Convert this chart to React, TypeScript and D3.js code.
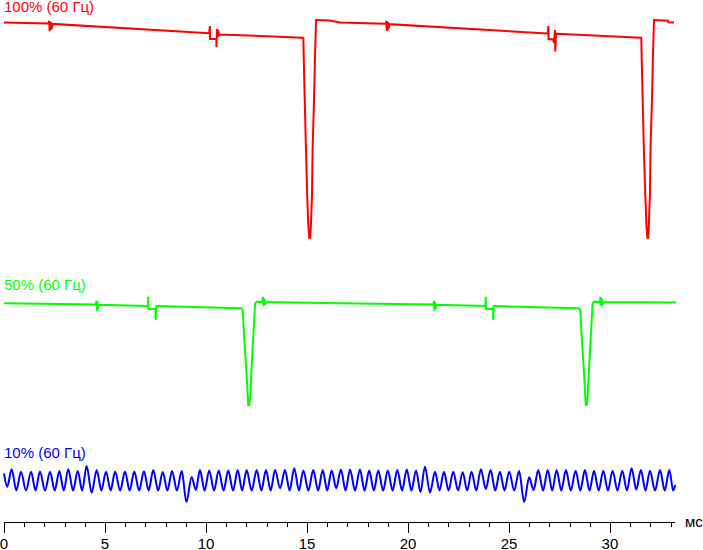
import React from "react";
import * as d3 from "d3";

const W = 703;
const H = 550;

// ms axis
const majorTicks = [0, 5, 10, 15, 20, 25, 30];
const minorTicks = d3.range(0, 34, 1);
const axisUnit = "мс";

const labels = ["100% (60 Гц)", "50% (60 Гц)", "10% (60 Гц)"];
const colors = ["#ff0000", "#00ff00", "#0000ff"];

// [time ms, brightness-like value]
const red: [number, number][] = [
  [0, 98.8], [2.2, 98.4], [2.24, 99.6], [2.26, 94.9], [2.28, 99.3], [2.31, 95.4], [2.33, 99.0], [2.36, 96.0], [2.4, 98.2],
  [10.16, 93.9], [10.19, 97.2], [10.2, 91.3], [10.51, 91.3], [10.52, 87.6], [10.54, 95.9], [10.58, 92.2], [10.61, 95.4], [10.64, 93.1], [10.69, 93.4],
  [14.79, 91.9], [14.82, 91.7], [14.85, 78.6], [14.9, 59.3], [14.95, 40.4], [15.01, 19.7], [15.06, 6.9], [15.11, 0.1], [15.16, 0.1],
  [15.2, 6.9], [15.25, 20.6], [15.28, 41.3], [15.35, 63.8], [15.4, 83.9], [15.45, 100],
  [16.14, 99.8], [16.63, 98.9],
  [18.9, 98.3], [18.93, 99.6], [18.95, 95.0], [18.97, 99.3], [19.0, 95.4], [19.02, 99.0], [19.05, 96.2], [19.08, 98.1],
  [26.91, 93.8], [26.95, 97.2], [26.96, 91.2], [27.18, 91.3], [27.23, 89.4], [27.28, 95.4], [27.29, 85.5], [27.33, 93.6], [27.38, 93.7],
  [31.53, 91.9], [31.55, 91.7], [31.58, 78.6], [31.63, 59.3], [31.68, 40.4], [31.75, 19.7], [31.8, 6.9], [31.85, 0.1], [31.9, 0.1],
  [31.93, 6.9], [31.98, 20.6], [32.01, 41.3], [32.08, 63.8], [32.13, 83.9], [32.18, 100],
  [32.87, 99.7], [32.9, 98.9], [33.17, 98.8],
];

const green: [number, number][] = [
  [0, 98.4], [4.55, 97.3], [4.58, 101], [4.6, 91.3], [4.63, 100.2], [4.65, 92.9], [4.69, 97.1],
  [7.13, 95.8], [7.14, 104.8], [7.15, 92.9], [7.5, 92.9], [7.51, 82.3], [7.54, 95.8],
  [11.73, 93.6], [11.82, 92.0], [11.9, 62.9], [11.98, 38.7], [12.04, 19.4], [12.09, 0], [12.14, 0],
  [12.18, 6.8], [12.26, 37.1], [12.34, 66.1], [12.43, 98.4], [12.51, 100],
  [12.8, 99.7], [12.82, 104.8], [12.86, 95.8], [12.89, 103], [12.92, 97.2], [12.97, 99.7],
  [16.63, 98.5], [21.26, 97.3], [21.29, 101], [21.31, 91.3], [21.34, 100.2], [21.36, 92.9], [21.4, 97.1],
  [23.84, 95.8], [23.85, 104.8], [23.86, 92.9], [24.21, 92.9], [24.22, 82.3], [24.25, 95.8],
  [28.44, 93.6], [28.53, 92.0], [28.61, 62.9], [28.69, 38.7], [28.75, 19.4], [28.8, 0], [28.85, 0],
  [28.89, 6.8], [28.97, 37.1], [29.05, 66.1], [29.14, 98.4], [29.22, 100],
  [29.51, 99.7], [29.53, 104.8], [29.57, 95.8], [29.6, 103], [29.63, 97.2], [29.68, 99.7],
  [33.27, 99.2],
];

// extrema of the 10% ripple: [time ms, relative value]
const blue: [number, number][] = [
  [0.0, 0.7], [0.16, -0.62], [0.38, 1.12], [0.61, -1.0], [0.84, 0.88], [1.09, -1.0], [1.34, 0.88], [1.56, -1.0],
  [1.78, 0.9], [2.03, -1.0], [2.28, 0.88], [2.51, -1.0], [2.74, 0.95], [2.96, -1.0], [3.18, 1.12], [3.42, -1.0],
  [3.65, 0.95], [3.87, -1.0], [4.09, 1.45], [4.34, -1.22], [4.59, 1.05], [4.82, -1.0], [5.05, 0.88], [5.28, -1.0],
  [5.5, 0.9], [5.75, -1.0], [5.99, 0.9], [6.22, -1.0], [6.45, 0.9], [6.69, -1.0], [6.93, 0.92], [7.16, -1.0],
  [7.39, 1.05], [7.63, -1.0], [7.86, 0.85], [8.09, -1.0], [8.32, 0.95], [8.56, -1.0], [8.8, 0.95], [9.03, -2.15],
  [9.29, 0.35], [9.5, -0.95], [9.7, 1.05], [9.93, -1.0], [10.16, 1.0], [10.4, -1.0], [10.63, 1.0], [10.87, -1.0],
  [11.1, 1.0], [11.34, -1.0], [11.57, 1.05], [11.79, -1.0], [12.01, 1.05], [12.26, -1.0], [12.51, 1.05], [12.74, -1.0],
  [12.97, 1.05], [13.2, -1.0], [13.42, 1.05], [13.67, -0.78], [13.91, 1.05], [14.14, -1.0], [14.37, 1.22], [14.6, -1.0],
  [14.82, 1.0], [15.07, -1.0], [15.31, 1.05], [15.55, -1.0], [15.78, 1.05], [16.0, -1.0], [16.22, 1.0], [16.45, -0.78],
  [16.68, 1.1], [16.91, -1.0], [17.13, 1.1], [17.38, -1.0], [17.62, 1.1], [17.85, -1.0], [18.08, 1.0], [18.31, -1.0],
  [18.53, 1.0], [18.77, -1.0], [19.0, 1.0], [19.24, -1.0], [19.47, 1.05], [19.71, -1.0], [19.94, 1.1], [20.17, -1.0],
  [20.4, 1.0], [20.62, -1.15], [20.84, 1.38], [21.09, -1.2], [21.34, 0.88], [21.56, -1.0], [21.78, 0.88], [22.01, -1.0],
  [22.24, 0.88], [22.48, -1.0], [22.71, 0.82], [22.93, -1.0], [23.15, 0.88], [23.38, -1.0], [23.61, 1.12], [23.85, -0.85],
  [24.09, 1.05], [24.32, -1.0], [24.55, 0.88], [24.78, -1.0], [25.01, 0.88], [25.26, -1.0], [25.5, 0.95], [25.75, -2.15],
  [26.0, 0.32], [26.22, -0.95], [26.45, 1.05], [26.69, -1.0], [26.92, 1.05], [27.14, -1.0], [27.36, 1.05], [27.59, -1.0],
  [27.82, 1.05], [28.06, -1.0], [28.3, 0.98], [28.53, -1.0], [28.76, 1.05], [28.99, -1.0], [29.21, 0.98], [29.44, -1.0],
  [29.67, 0.98], [29.9, -1.0], [30.13, 0.98], [30.37, -1.0], [30.61, 0.98], [30.84, -1.0], [31.07, 1.22], [31.3, -0.9],
  [31.53, 1.05], [31.76, -1.0], [31.98, 0.98], [32.23, -1.0], [32.48, 1.05], [32.71, -1.0], [32.94, 1.05], [33.13, -1.0],
  [33.23, -0.45],
];

export default function App() {
  const x = d3.scaleLinear().domain([0, 33.2]).range([4, 674.6]);
  const yRed = d3.scaleLinear().domain([0, 100]).range([238, 20]);
  const yGreen = d3.scaleLinear().domain([0, 100]).range([405, 301.7]);
  const yBlue = d3.scaleLinear().domain([-1, 1]).range([490.5, 470.5]);

  const lineR = d3.line<[number, number]>().x((d) => x(d[0])).y((d) => yRed(d[1]));
  const lineG = d3.line<[number, number]>().x((d) => x(d[0])).y((d) => yGreen(d[1]));
  const lineB = d3
    .line<[number, number]>()
    .x((d) => x(d[0]))
    .y((d) => yBlue(d[1]))
    .curve(d3.curveMonotoneX);

  const axisY = 522;
  const font = "'Liberation Sans', Arial, sans-serif";

  return (
    <svg
      width={W}
      height={H}
      style={{ position: "absolute", left: 0, top: 0, background: "#fff" }}
      fontFamily={font}
    >
      <rect width={W} height={H} fill="#fff" />
      <path d={lineR(red) || ""} fill="none" stroke={colors[0]} strokeWidth={2} />
      <path d={lineG(green) || ""} fill="none" stroke={colors[1]} strokeWidth={2} />
      <path d={lineB(blue) || ""} fill="none" stroke={colors[2]} strokeWidth={2} />

      <text x={4} y={12} fill={colors[0]} fontSize={15}>{labels[0]}</text>
      <text x={4} y={290} fill={colors[1]} fontSize={15}>{labels[1]}</text>
      <text x={4} y={458} fill={colors[2]} fontSize={15}>{labels[2]}</text>

      <g shapeRendering="crispEdges">
        <line x1={x(0)} x2={675} y1={axisY + 0.5} y2={axisY + 0.5} stroke="#000" />
        {minorTicks.map((t) => (
          <line key={"m" + t} x1={Math.round(x(t)) + 0.5} x2={Math.round(x(t)) + 0.5} y1={axisY} y2={axisY + 5} stroke="#000" />
        ))}
        {majorTicks.map((t) => (
          <line key={"M" + t} x1={Math.round(x(t)) + 0.5} x2={Math.round(x(t)) + 0.5} y1={axisY} y2={axisY + 11} stroke="#000" />
        ))}
      </g>
      {majorTicks.map((t) => (
        <text key={"l" + t} x={x(t)} y={549} textAnchor="middle" fontSize={15} fill="#000">
          {t}
        </text>
      ))}
      <text x={685} y={527} fontSize={15} fill="#000">{axisUnit}</text>
    </svg>
  );
}
